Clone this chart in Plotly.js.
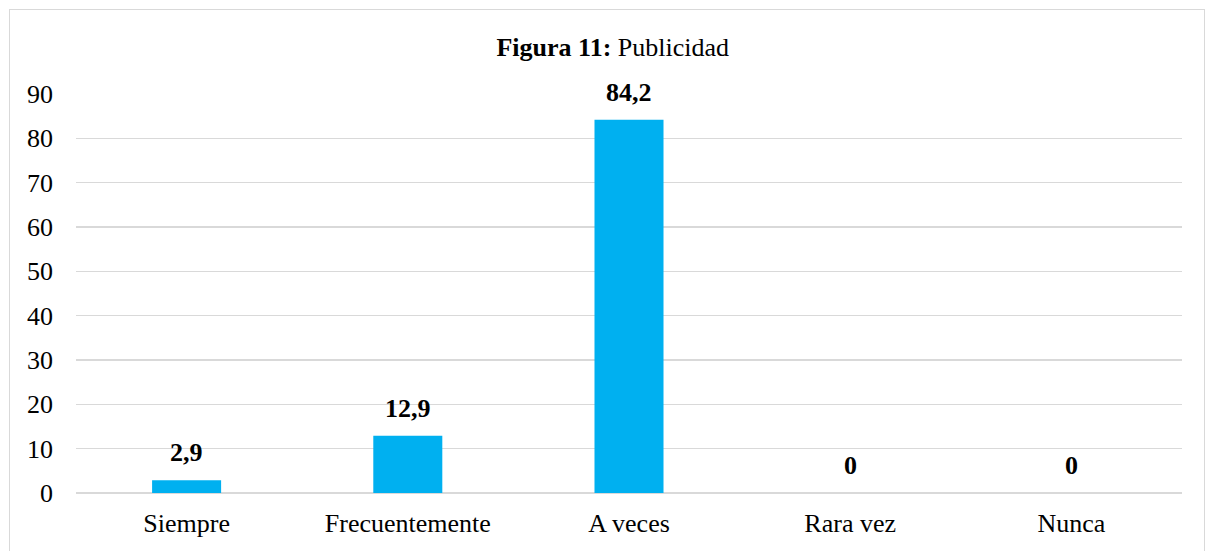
<!DOCTYPE html>
<html>
<head>
<meta charset="utf-8">
<script src="https://cdn.plot.ly/plotly-3.0.1.min.js"></script>
<style>
  html, body { margin: 0; padding: 0; background: #ffffff; }
  #chart { position: absolute; left: 0; top: 0; width: 1211px; height: 551px; }
  #frame { position: absolute; left: 9px; top: 9px; width: 1194px; height: 560px;
           border: 1.5px solid #d9d9d9; pointer-events: none; }
</style>
</head>
<body>
<div id="chart"></div>
<div id="frame"></div>
<script>
// Survey answers for "Publicidad" (percent of respondents)
const categories = ["Siempre", "Frecuentemente", "A veces", "Rara vez", "Nunca"];
const values = [2.9, 12.9, 84.2, 0, 0];
const yTicks = [0, 10, 20, 30, 40, 50, 60, 70, 80, 90];

const serif = "'Liberation Serif', 'Times New Roman', serif";

// Value labels use a decimal comma
const fmt = v => String(v).replace(".", ",");

const trace = {
  type: "bar",
  x: categories,
  y: values,
  marker: { color: "#00b0f0" },
  hoverinfo: "x+y"
};

const labels = categories.map((c, i) => ({
  x: c,
  y: values[i],
  xref: "x",
  yref: "y",
  text: "<b>" + fmt(values[i]) + "</b>",
  showarrow: false,
  yanchor: "bottom",
  yshift: 11,
  font: { family: serif, size: 26, color: "#000000" }
}));

const layout = {
  width: 1211,
  height: 551,
  margin: { l: 76, r: 29, t: 94, b: 58 },
  paper_bgcolor: "#ffffff",
  plot_bgcolor: "#ffffff",
  bargap: 0.688,
  showlegend: false,
  title: {
    text: "<b>Figura 11:</b> Publicidad",
    font: { family: serif, size: 26, color: "#000000" },
    x: 0.506,
    xanchor: "center",
    y: 0.915,
    yanchor: "middle"
  },
  xaxis: {
    type: "category",
    showgrid: false,
    showline: false,
    zeroline: false,
    ticks: "",
    ticklabelstandoff: 12,
    tickfont: { family: serif, size: 26, color: "#000000" }
  },
  yaxis: {
    range: [0, 90],
    tickvals: yTicks,
    ticktext: yTicks.map(String),
    showgrid: true,
    gridcolor: "#d9d9d9",
    gridwidth: 1.3,
    zeroline: true,
    zerolinecolor: "#d9d9d9",
    zerolinewidth: 1.3,
    showline: false,
    ticks: "",
    ticklabelstandoff: 22,
    tickfont: { family: serif, size: 26, color: "#000000" }
  },
  annotations: labels
};

Plotly.newPlot("chart", [trace], layout, { displayModeBar: false, staticPlot: true });
</script>
</body>
</html>
